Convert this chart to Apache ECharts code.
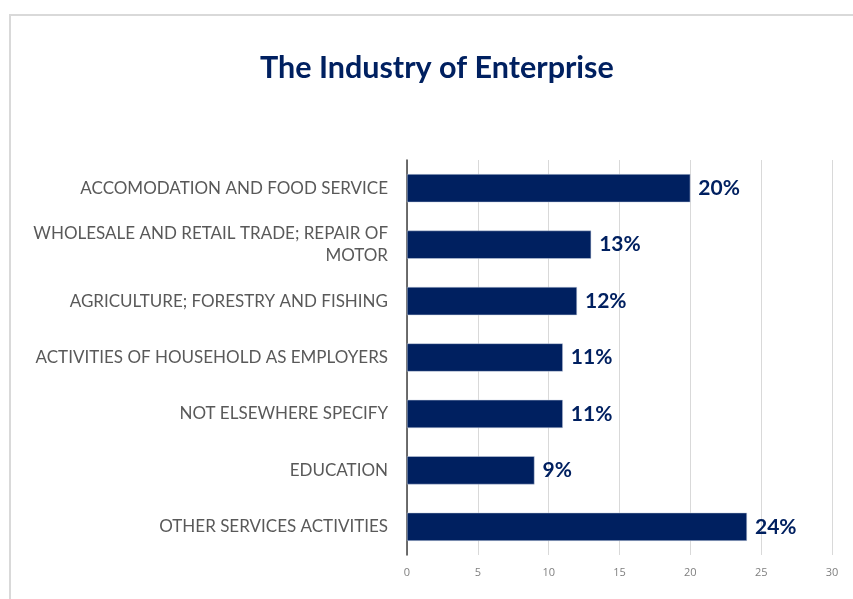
<!DOCTYPE html>
<html>
<head>
<meta charset="utf-8">
<script src="https://cdn.jsdelivr.net/npm/echarts@6/dist/echarts.min.js"></script>
<style>
  html, body { margin: 0; padding: 0; background: #ffffff; }
  #chart { width: 853px; height: 599px; }
</style>
</head>
<body>
<div id="chart"></div>
<script>
// Industry categories, top to bottom
const categories = [
  'ACCOMODATION AND FOOD SERVICE',
  'WHOLESALE AND RETAIL TRADE; REPAIR OF\nMOTOR',
  'AGRICULTURE; FORESTRY AND FISHING',
  'ACTIVITIES OF HOUSEHOLD AS EMPLOYERS',
  'NOT ELSEWHERE SPECIFY',
  'EDUCATION',
  'OTHER SERVICES ACTIVITIES'
];
// Share of enterprises per industry (%)
const shares = [20, 13, 12, 11, 11, 9, 24];
// Horizontal axis ticks
const xTicks = [0, 5, 10, 15, 20, 25, 30];

const navy = '#002060';

const chart = echarts.init(document.getElementById('chart'), null, { renderer: 'canvas' });
chart.setOption({
  backgroundColor: '#ffffff',
  animation: false,
  title: {
    text: 'The Industry of Enterprise',
    left: 255,
    top: 48,
    textStyle: { fontFamily: 'Lato', fontWeight: 'bold', fontSize: 30.5, color: navy }
  },
  graphic: [{
    type: 'rect',
    shape: { x: 10, y: 15, width: 900, height: 700 },
    style: { fill: 'none', stroke: '#d9d9d9', lineWidth: 2 },
    silent: true,
    z: -1
  }],
  grid: { left: 407, right: 21, top: 160, bottom: 44, containLabel: false },
  xAxis: {
    type: 'value',
    min: xTicks[0],
    max: xTicks[xTicks.length - 1],
    interval: 5,
    axisLine: { show: false },
    axisTick: { show: false },
    axisLabel: { color: '#7f7f7f', fontFamily: 'Open Sans', fontSize: 11, margin: 12 },
    splitLine: { show: true, lineStyle: { color: '#d9d9d9', width: 1 } }
  },
  yAxis: {
    type: 'category',
    inverse: true,
    data: categories,
    axisLine: { show: true, lineStyle: { color: '#404040', width: 1.5 } },
    axisTick: { show: false },
    axisLabel: {
      color: '#595959',
      fontFamily: 'Lato',
      fontSize: 17,
      margin: 19,
      align: 'right',
      lineHeight: 22
    }
  },
  series: [{
    type: 'bar',
    data: shares,
    barWidth: '50%',
    itemStyle: { color: navy, borderColor: '#c9d1e0', borderWidth: 0.5 },
    label: {
      show: true,
      position: 'right',
      distance: 8,
      formatter: p => p.value + '%',
      color: navy,
      fontFamily: 'Lato',
      fontWeight: 'bold',
      fontSize: 21
    }
  }]
});
</script>
</body>
</html>
